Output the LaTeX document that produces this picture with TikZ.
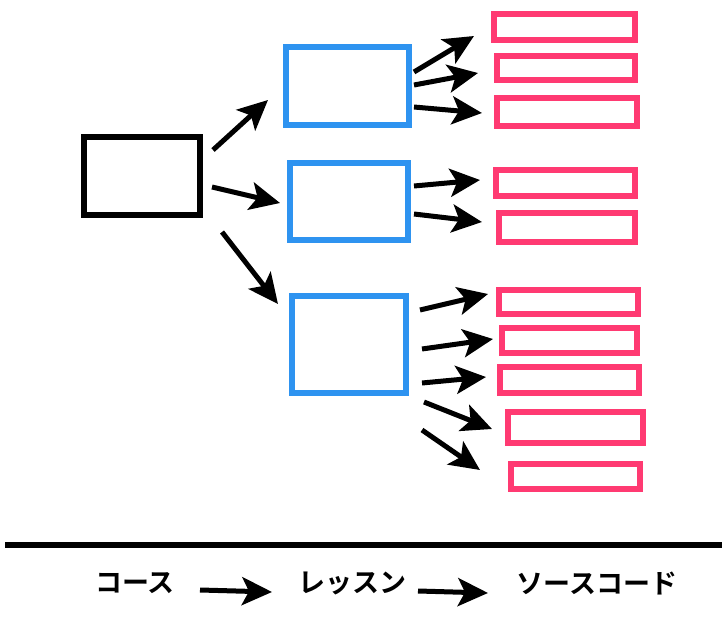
\documentclass[tikz,border=0pt]{standalone}
\usepackage{fontspec}
\newfontfamily\cjk{Noto Sans CJK JP Bold}
\usetikzlibrary{arrows.meta}
\definecolor{cblue}{HTML}{2E93F0}
\definecolor{cpink}{HTML}{FF3A72}
\begin{document}
\begin{tikzpicture}[x=1pt,y=-1pt,
  bx/.style={line width=6.5pt},
  blk/.style={bx,draw=black},
  blu/.style={bx,draw=cblue},
  pnk/.style={line width=6pt,draw=cpink},
  arr/.style={line width=5pt,-{Stealth[length=30pt,width=28pt,inset=7pt]}},
  lbl/.style={font=\cjk\fontsize{27pt}{29pt}\selectfont}]
\useasboundingbox (0,0) rectangle (726,618);
\draw[blk] (84,137) rectangle (200,215);
\draw[blu] (286,47) rectangle (409,125);
\draw[blu] (290,163) rectangle (408,240);
\draw[blu] (292,296) rectangle (406,393);
\foreach \a/\b/\c/\d in {494/14/635/40,497/56/635/80,497/98/637/126,496/170/635/196,499/213/635/242,499/290/638/314,502/328/637/353,500/367/639/393,508/412/643/443,511/464/640/489}
  \draw[pnk] (\a,\b) rectangle (\c,\d);
\foreach \a/\b/\c/\d in {213/150/268/100, 212/187/280/203, 222/232/278/304,
  414/72/474/36, 414/85/478/73, 414/107/482/113,
  414/186/480/180, 414/214/482/222,
  420/310/488/294, 422/349/493/339, 422/383/486/377, 424/402/492/429, 422/430/480/470}
  \draw[arr] (\a,\b) -- (\c,\d);
\draw[line width=6pt] (5,545) -- (722,545);
\node[lbl] (c) at (135,583) {コース};
\node[lbl] (l) at (352,583) {レッスン};
\node[lbl] (s) at (597,583) {ソースコード};
\draw[arr] (200,590) -- (272,592);
\draw[arr] (418,591) -- (488,593);
\end{tikzpicture}
\end{document}
